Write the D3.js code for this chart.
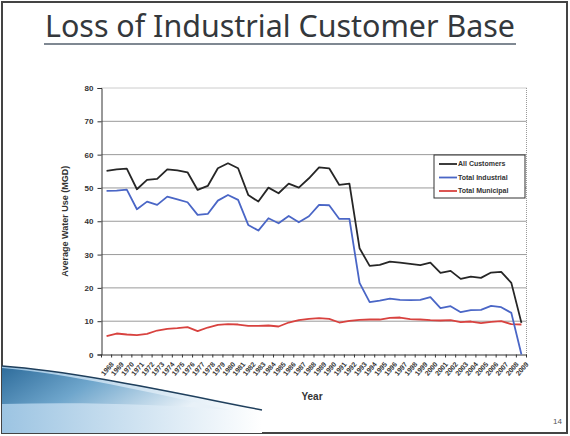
<!DOCTYPE html>
<html><head><meta charset="utf-8">
<script src="https://cdn.jsdelivr.net/npm/d3@7"></script>
<style>
html,body{margin:0;padding:0;background:#fff;}
svg{display:block;}
</style></head>
<body>
<script>
const years = d3.range(1968, 2010).map(String);
const allCustomers = [55.1,55.6,55.8,49.6,52.4,52.7,55.6,55.3,54.7,49.4,50.6,55.9,57.4,55.9,47.9,45.9,50.1,48.4,51.3,50.1,52.9,56.2,55.9,50.9,51.3,31.9,26.6,26.9,27.9,27.6,27.2,26.8,27.6,24.5,25.1,22.7,23.4,23.0,24.6,24.8,21.5,9.5];
const totalIndustrial = [49.1,49.2,49.5,43.6,45.9,44.9,47.4,46.6,45.7,41.9,42.2,46.2,47.9,46.4,38.9,37.2,40.9,39.4,41.6,39.7,41.5,44.9,44.8,40.7,40.7,21.5,15.7,16.2,16.8,16.4,16.3,16.4,17.2,13.9,14.5,12.7,13.3,13.4,14.6,14.2,12.5,0];
const totalMunicipal = [5.5,6.3,6.0,5.8,6.2,7.2,7.7,7.9,8.2,7.0,8.1,8.9,9.1,9.0,8.6,8.6,8.7,8.4,9.6,10.3,10.7,10.9,10.7,9.6,10.1,10.4,10.5,10.5,11.0,11.1,10.6,10.5,10.3,10.2,10.3,9.7,9.9,9.4,9.8,10.0,9.1,9.0];
const yTicks = [0,10,20,30,40,50,60,70,80];
const seriesNames = ["All Customers","Total Industrial","Total Municipal"];
const seriesColors = ["#262626","#4a66c6","#d8423f"];

const W = 570, H = 436;
const svg = d3.select("body").append("svg").attr("width", W).attr("height", H);

const defs = svg.append("defs");
const g1 = defs.append("linearGradient").attr("id","sw1").attr("x1","0").attr("y1","0").attr("x2","1").attr("y2","0.3");
g1.append("stop").attr("offset","0").attr("stop-color","#2f6d9c");
g1.append("stop").attr("offset","0.45").attr("stop-color","#6fa6cc");
g1.append("stop").attr("offset","1").attr("stop-color","#e8f1f8");
const g2 = defs.append("linearGradient").attr("id","sw2").attr("x1","0").attr("y1","0").attr("x2","1").attr("y2","0");
g2.append("stop").attr("offset","0").attr("stop-color","#9cc4e2");
g2.append("stop").attr("offset","1").attr("stop-color","#ffffff");

// slide frame
svg.append("rect").attr("x",2).attr("y",2).attr("width",W-5).attr("height",H-5)
  .attr("fill","none").attr("stroke","#444").attr("stroke-width",2);

// bottom-left swoosh
svg.append("path").attr("d","M2,366 C80,372 170,392 262,408 L262,433 L2,433 Z").attr("fill","url(#sw2)");
svg.append("path").attr("d","M2,368 C70,374 150,392 230,410 C160,404 80,402 2,404 Z").attr("fill","url(#sw1)");
svg.append("path").attr("d","M2,366 C80,372 170,392 262,410").attr("fill","none").attr("stroke","#1f3f5c").attr("stroke-width",1.5);

// title
svg.append("text").attr("x",45).attr("y",37).attr("font-family","Noto Sans, sans-serif")
  .attr("font-size",30).attr("fill","#34383c").attr("textLength",470).attr("lengthAdjust","spacingAndGlyphs")
  .text("Loss of Industrial Customer Base");
svg.append("line").attr("x1",44).attr("x2",516).attr("y1",44).attr("y2",44).attr("stroke","#55606e").attr("stroke-width",1.5);

// page number
svg.append("text").attr("x",553).attr("y",424).attr("font-family","Liberation Sans, Arial, sans-serif")
  .attr("font-size",8).attr("fill","#555").text("14");

// chart
const pLeft = 101.5, pRight = 526.5, pTop = 88, pBottom = 354.5;
const x = d3.scaleBand().domain(years).range([pLeft, pRight]).padding(0);
const y = d3.scaleLinear().domain([0, 80]).range([pBottom, pTop]);
const cx = d => x(d) + x.bandwidth()/2;

// gridlines
svg.append("g").selectAll("line").data(yTicks.filter(t => t > 0 && t < 80)).join("line")
  .attr("x1",pLeft).attr("x2",pRight).attr("y1",d=>y(d)).attr("y2",d=>y(d))
  .attr("stroke","#9a9a9a").attr("stroke-width",1);
// top and right dotted border
svg.append("line").attr("x1",pLeft).attr("x2",pRight).attr("y1",y(80)).attr("y2",y(80))
  .attr("stroke","#999").attr("stroke-dasharray","1,1");
svg.append("line").attr("x1",pRight).attr("x2",pRight).attr("y1",pTop).attr("y2",pBottom)
  .attr("stroke","#999").attr("stroke-dasharray","1,1");

// y axis
const yAxis = d3.axisLeft(y).tickValues(yTicks).tickSize(4).tickPadding(4);
const yg = svg.append("g").attr("transform",`translate(${pLeft},0)`).call(yAxis);
yg.select(".domain").attr("stroke","#333");
yg.selectAll(".tick line").attr("stroke","#333");
yg.selectAll("text").attr("font-family","Liberation Sans, Arial, sans-serif").attr("font-weight","bold")
  .attr("font-size",8).attr("fill","#333");

// x axis
const xAxis = d3.axisBottom(x).tickSize(0).tickPadding(4);
const xg = svg.append("g").attr("transform",`translate(0,${pBottom})`).call(xAxis);
xg.select(".domain").attr("stroke","#333");
xg.selectAll("text").attr("font-family","Liberation Sans, Arial, sans-serif").attr("font-weight","bold")
  .attr("font-size",7).attr("fill","#333")
  .attr("text-anchor","end").attr("dy","0.3em")
  .attr("transform","translate(3,6) rotate(-50)");
svg.append("g").selectAll("line").data(years.concat(["end"])).join("line")
  .attr("x1",(d,i)=>pLeft + i*x.bandwidth()).attr("x2",(d,i)=>pLeft + i*x.bandwidth())
  .attr("y1",pBottom).attr("y2",pBottom+3).attr("stroke","#333");

// axis titles
svg.append("text").attr("transform",`translate(68,${(pTop+pBottom)/2}) rotate(-90)`)
  .attr("text-anchor","middle").attr("font-family","Liberation Sans, Arial, sans-serif")
  .attr("font-weight","bold").attr("font-size",9).attr("fill","#333").text("Average Water Use (MGD)");
svg.append("text").attr("x",312).attr("y",400).attr("text-anchor","middle")
  .attr("font-family","Liberation Sans, Arial, sans-serif").attr("font-weight","bold")
  .attr("font-size",10).attr("fill","#333").text("Year");

// lines
const seriesData = [allCustomers, totalIndustrial, totalMunicipal];
const line = d3.line().x((d,i)=>cx(years[i])).y(d=>y(d));
[2,1,0].forEach(k => {
  svg.append("path").datum(seriesData[k]).attr("d",line).attr("fill","none")
    .attr("stroke",seriesColors[k]).attr("stroke-width",1.8).attr("stroke-linejoin","round");
});

// legend
const lg = svg.append("g").attr("transform","translate(434,155)");
lg.append("rect").attr("width",91).attr("height",43).attr("fill","#fff").attr("stroke","#333").attr("stroke-width",1);
seriesNames.forEach((n,i) => {
  const yy = 9 + i*13.5;
  lg.append("line").attr("x1",5).attr("x2",23).attr("y1",yy).attr("y2",yy).attr("stroke",seriesColors[i]).attr("stroke-width",1.8);
  lg.append("text").attr("x",24).attr("y",yy).attr("dy","0.35em").attr("font-family","Liberation Sans, Arial, sans-serif")
    .attr("font-weight","bold").attr("font-size",7).attr("fill","#333").text(n);
});
</script>
</body></html>
